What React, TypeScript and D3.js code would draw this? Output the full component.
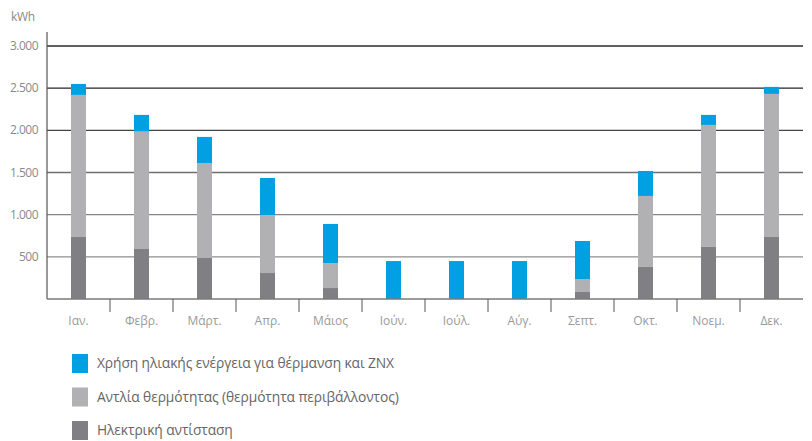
import React from "react";
import * as d3 from "d3";

const months = ["Ιαν.", "Φεβρ.", "Μάρτ.", "Απρ.", "Μάιος", "Ιούν.", "Ιούλ.", "Αύγ.", "Σεπτ.", "Οκτ.", "Νοεμ.", "Δεκ."];
const electric = [735, 593, 486, 308, 130, 0, 0, 0, 83, 380, 617, 735];
const heatPump = [1685, 1392, 1127, 688, 297, 0, 0, 0, 154, 842, 1447, 1697];
const solar = [130, 198, 309, 439, 463, 450, 450, 450, 451, 296, 119, 83];
const yTicks = [500, 1000, 1500, 2000, 2500, 3000];
const seriesNames = [
  "Χρήση ηλιακής ενέργεια για θέρμανση και ΖΝΧ",
  "Αντλία θερμότητας (θερμότητα περιβάλλοντος)",
  "Ηλεκτρική αντίσταση",
];
const colors = { solar: "#00a0e3", heat: "#b1b1b3", elec: "#808084" };
const gridColors: Record<number, string> = {
  3000: "#2c2c2c",
  2500: "#262626",
  2000: "#444",
  1500: "#6f6f6f",
  1000: "#858585",
  500: "#8e8e8e",
};

export default function App() {
  const W = 812, H = 441;
  const x0 = 47, x1 = 803, base = 299;
  const x = d3.scaleBand<string>().domain(months).range([x0, x1]).padding(0);
  const y = d3.scaleLinear().domain([0, 3000]).range([base, 46]);
  const barW = 15;
  const font = "'Open Sans', 'Noto Sans', sans-serif";

  const rows = months.map((m, i) => ({ m, e: electric[i], h: heatPump[i], s: solar[i] }));

  return (
    <svg width={W} height={H} style={{ position: "absolute", left: 0, top: 0, background: "#fff" }}>
      <text x={11} y={21} fontFamily={font} fontSize={12} fill="#8a8a8a" letterSpacing={-0.3}>kWh</text>
      {yTicks.map((t) => (
        <g key={t}>
          <line x1={x0} x2={x1} y1={y(t)} y2={y(t)} stroke={gridColors[t]} strokeWidth={1.3} />
          <text x={38} y={y(t) + 4} textAnchor="end" fontFamily={font} fontSize={12} fill="#8a8a8a" letterSpacing={-0.5}>
            {d3.format(",")(t).replace(/,/g, ".")}
          </text>
        </g>
      ))}
      {rows.map((r) => {
        const cx = (x(r.m) as number) + x.bandwidth() / 2;
        const bx = cx - barW / 2;
        const yE = y(r.e), yH = y(r.e + r.h), yS = y(r.e + r.h + r.s);
        return (
          <g key={r.m}>
            {r.e > 0 && <rect x={bx} y={yE} width={barW} height={base - yE} fill={colors.elec} />}
            {r.h > 0 && <rect x={bx} y={yH} width={barW} height={yE - yH} fill={colors.heat} />}
            {r.s > 0 && <rect x={bx} y={yS} width={barW} height={yH - yS} fill={colors.solar} />}
            <text x={cx} y={325} textAnchor="middle" fontFamily={font} fontSize={12} fill="#9a9a9a">{r.m}</text>
          </g>
        );
      })}
      <line x1={x0} x2={x0} y1={32} y2={base} stroke="#555" strokeWidth={1.2} />
      <line x1={x0} x2={x1} y1={base} y2={base} stroke="#7a7a7a" strokeWidth={1.5} />
      {months.slice(1).map((m) => (
        <line key={m} x1={x(m) as number} x2={x(m) as number} y1={base} y2={312} stroke="#555" strokeWidth={1} />
      ))}
      {seriesNames.map((n, i) => (
        <g key={n}>
          <rect x={72} y={354 + i * 33.5} width={16} height={19} fill={[colors.solar, colors.heat, colors.elec][i]} />
          <text x={97} y={368 + i * 33.5} fontFamily={font} fontSize={13.8} fill="#666" letterSpacing={-0.1}>{n}</text>
        </g>
      ))}
    </svg>
  );
}
